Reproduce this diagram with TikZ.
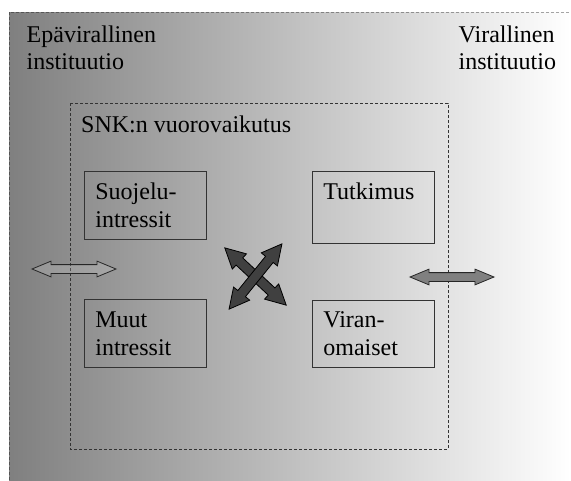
\documentclass[tikz,border=0pt]{standalone}
\usepackage{fontspec}
\setmainfont{Liberation Serif}
\usetikzlibrary{shapes.arrows}
\begin{document}
\begin{tikzpicture}[x=1pt,y=-1pt,
	txt/.style={anchor=north west,inner sep=0pt,align=left,font=\fontsize{24}{27}\selectfont},
	area/.style={anchor=north west,draw=black!80,line width=0.8pt,minimum width=122pt,minimum height=68pt,
		text width=100pt,inner xsep=11pt,inner ysep=2pt,align=left,font=\fontsize{24}{28}\selectfont},
	flow/.style={double arrow,draw=black!85,line width=0.8pt,minimum height=84pt,inner sep=4pt,
		double arrow head extend=3.5pt,double arrow tip angle=45},
	swap/.style={double arrow,draw=black,fill=black!75,line width=0.8pt,minimum height=84pt,inner sep=4.5pt,
		double arrow head extend=5.5pt,double arrow tip angle=55}]
	\useasboundingbox (0,0) rectangle (571,480);
	% background
	\shade[left color=gray,right color=white] (9,12) rectangle (571,480);
	\draw[black,draw opacity=0.35,line width=0.8pt,dash pattern=on 3pt off 2pt] (9,480) -- (9,12) -- (571,12);
	% SNK
	\draw[draw=black!80,line width=0.8pt,dash pattern=on 3pt off 2pt] (70,103) rectangle (448,449);
	\node[txt] (snk) at (81,115.5) {SNK:n vuorovaikutus};
	\node[area] (protect) at (84,171) {Suojelu-\\intressit};
	\node[area] (other) at (84,299) {Muut\\intressit};
	\node[area,minimum height=72pt,text depth=32.4pt] (research) at (312,171) {Tutkimus};
	\node[area,minimum width=121pt,minimum height=67pt] (officials) at (312,300) {Viran-\\omaiset};
	% arrows
	\node[flow,fill=white,fill opacity=0.15] (leftflow) at (74,269) {};
	\node[flow,fill=black!50] (rightflow) at (452,277) {};
	\node[swap,rotate=-43] (swapa) at (255.5,276.5) {};
	\node[swap,rotate=51] (swapb) at (255.5,276.5) {};
	\node[txt] (informal) at (26.5,25.5) {Epävirallinen\\instituutio};
	\node[txt] (formal) at (458.5,25.5) {Virallinen\\instituutio};
\end{tikzpicture}
\end{document}
